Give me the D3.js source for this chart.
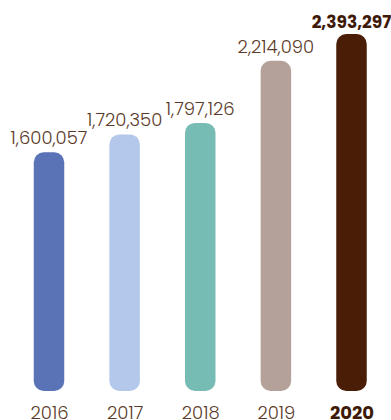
<!DOCTYPE html>
<html><head><meta charset="utf-8">
<script src="https://cdn.jsdelivr.net/npm/d3@7"></script>
<style>html,body{margin:0;padding:0;background:#fff;}svg{display:block;}</style>
</head><body>
<svg id="c" width="391" height="420"></svg>
<script>
const years = ["2016","2017","2018","2019","2020"];
const values = [1600057, 1720350, 1797126, 2214090, 2393297];
const colors = ["#5a72b6","#b3c8ea","#77bbb5","#b4a199","#4a1e06"];
const highlight = "2020";

const svg = d3.select("#c");
const x = d3.scalePoint().domain(years).range([49, 351.5]);
const y = d3.scaleLinear().domain([0, 2393297]).range([391, 34]);
const bw = 30.5;
const fmt = d3.format(",");
const font = "Poppins, 'Open Sans', sans-serif";

svg.selectAll("rect.bar").data(years).join("rect")
  .attr("class","bar")
  .attr("x", d => x(d) - bw/2)
  .attr("width", bw)
  .attr("y", (d,i) => y(values[i]))
  .attr("height", (d,i) => y(0) - y(values[i]))
  .attr("rx", 10).attr("ry", 10)
  .attr("fill", (d,i) => colors[i]);

svg.selectAll("text.val").data(years).join("text")
  .attr("class","val")
  .attr("x", d => x(d))
  .attr("y", (d,i) => y(values[i]) - (d === highlight ? 6.5 : 8))
  .attr("text-anchor","middle")
  .style("font-family", font)
  .style("font-size", d => d === highlight ? "17px" : "18px")
  .style("font-weight", d => d === highlight ? 700 : 300)
  .attr("fill", d => d === highlight ? "#3e1a06" : "#5b3a29")
  .text((d,i) => fmt(values[i]));

const xAxis = d3.axisBottom(x).tickSize(0).tickPadding(0);
const g = svg.append("g").attr("transform","translate(0,405)").call(xAxis);
g.select(".domain").remove();
g.selectAll("text")
  .attr("dy", null).attr("y", 13.5)
  .style("font-family", font)
  .style("font-size", "18px")
  .style("font-weight", d => d === highlight ? 700 : 300)
  .attr("fill", d => d === highlight ? "#3e1a06" : "#5b3a29");
</script>
</body></html>
